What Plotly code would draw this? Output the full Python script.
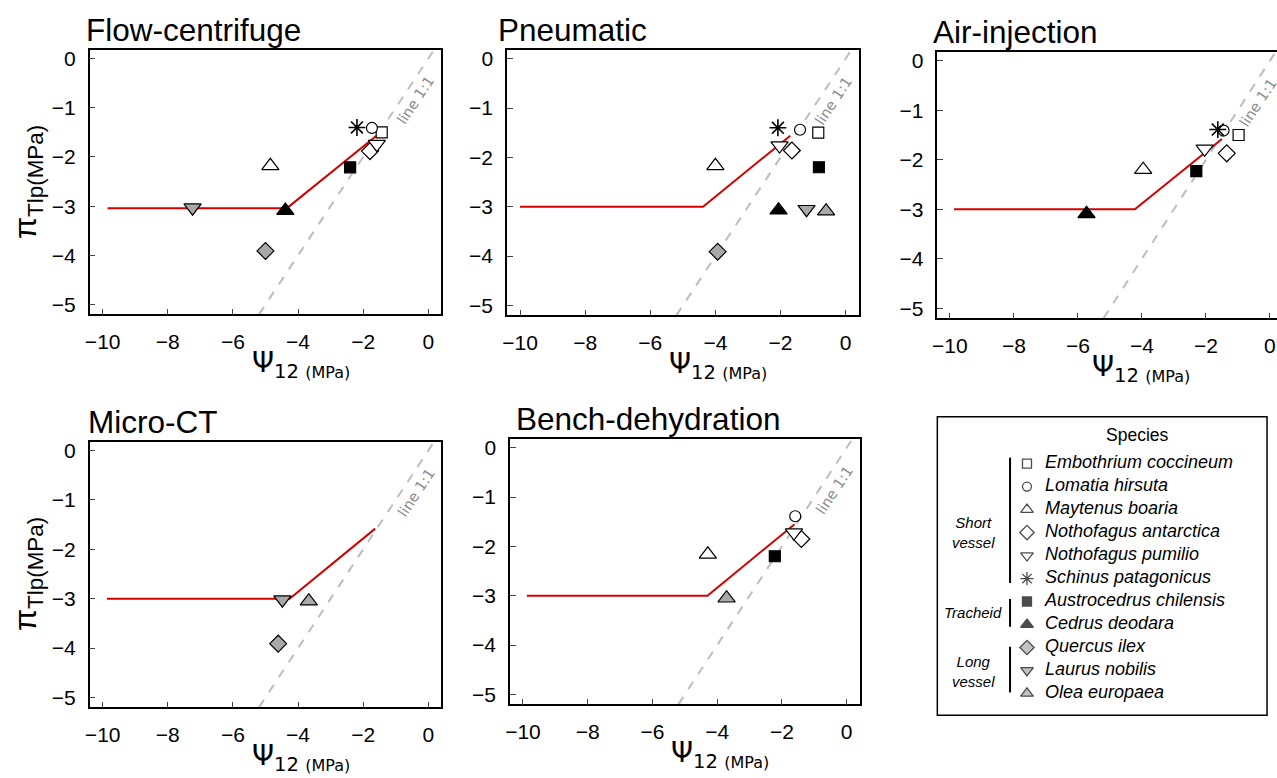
import plotly.graph_objects as go

W, H = 1277, 778

# species, in legend order
species = ["Embothrium coccineum", "Lomatia hirsuta", "Maytenus boaria",
           "Nothofagus antarctica", "Nothofagus pumilio", "Schinus patagonicus",
           "Austrocedrus chilensis", "Cedrus deodara", "Quercus ilex",
           "Laurus nobilis", "Olea europaea"]

# Flow-centrifuge
fc_species = ["Embothrium coccineum", "Lomatia hirsuta", "Maytenus boaria",
              "Nothofagus antarctica", "Nothofagus pumilio", "Schinus patagonicus",
              "Austrocedrus chilensis", "Cedrus deodara", "Quercus ilex", "Laurus nobilis"]
fc_psi12 = [-1.43, -1.73, -4.85, -1.79, -1.58, -2.19, -2.40, -4.39, -5.00, -7.24]
fc_tlp = [-1.50, -1.41, -2.18, -1.88, -1.74, -1.40, -2.21, -3.09, -3.91, -3.03]
fc_fit_x = [-9.85, -4.34, -1.59]
fc_fit_y = [-3.04, -3.04, -1.57]

# Pneumatic
pn_species = ["Embothrium coccineum", "Lomatia hirsuta", "Maytenus boaria",
              "Nothofagus antarctica", "Nothofagus pumilio", "Schinus patagonicus",
              "Austrocedrus chilensis", "Cedrus deodara", "Quercus ilex",
              "Laurus nobilis", "Olea europaea"]
pn_psi12 = [-0.84, -1.40, -4.00, -1.65, -2.03, -2.08, -0.82, -2.06, -3.93, -1.20, -0.60]
pn_tlp = [-1.50, -1.44, -2.17, -1.86, -1.76, -1.40, -2.20, -3.07, -3.91, -3.05, -3.09]
pn_fit_x = [-10.0, -4.38, -1.70]
pn_fit_y = [-3.0, -3.0, -1.56]

# Air-injection
ai_species = ["Embothrium coccineum", "Lomatia hirsuta", "Maytenus boaria",
              "Nothofagus antarctica", "Nothofagus pumilio", "Schinus patagonicus",
              "Austrocedrus chilensis", "Cedrus deodara"]
ai_psi12 = [-0.98, -1.45, -3.96, -1.35, -2.04, -1.63, -2.30, -5.73]
ai_tlp = [-1.50, -1.41, -2.20, -1.87, -1.78, -1.39, -2.23, -3.09]
ai_fit_x = [-9.87, -4.22, -1.50]
ai_fit_y = [-3.0, -3.0, -1.58]

# Micro-CT
mc_species = ["Quercus ilex", "Laurus nobilis", "Olea europaea"]
mc_psi12 = [-4.61, -4.48, -3.67]
mc_tlp = [-3.91, -3.02, -3.05]
mc_fit_x = [-9.87, -4.26, -1.63]
mc_fit_y = [-3.0, -3.0, -1.58]

# Bench-dehydration
bd_species = ["Lomatia hirsuta", "Maytenus boaria", "Nothofagus antarctica",
              "Nothofagus pumilio", "Austrocedrus chilensis", "Olea europaea"]
bd_psi12 = [-1.59, -4.29, -1.40, -1.63, -2.22, -3.71]
bd_tlp = [-1.39, -2.16, -1.85, -1.72, -2.20, -3.05]
bd_fit_x = [-9.88, -4.30, -1.61]
bd_fit_y = [-3.0, -3.0, -1.55]

# 1:1 line
one_x = [-5.2, 0.2]
one_y = [-5.2, 0.2]

# marker styles: symbol, fill, size in panels, size in key
GREY = "#a9a9a9"
styles = {
    "Embothrium coccineum": ("square", "white", 11, 9),
    "Lomatia hirsuta": ("circle", "white", 11, 9),
    "Maytenus boaria": ("triangle-up", "white", 15, 11),
    "Nothofagus antarctica": ("diamond", "white", 13, 11),
    "Nothofagus pumilio": ("triangle-down", "white", 15, 11),
    "Schinus patagonicus": ("asterisk-open", "black", 14, 11),
    "Austrocedrus chilensis": ("square", "black", 11, 9),
    "Cedrus deodara": ("triangle-up", "black", 15, 11),
    "Quercus ilex": ("diamond", GREY, 13, 11),
    "Laurus nobilis": ("triangle-down", GREY, 15, 11),
    "Olea europaea": ("triangle-up", GREY, 15, 11),
}


def px(x):
    return x / W


def py(y):
    return 1 - y / H


# panel: title, data, frame in pixels (left, right, top, bottom), title left
panels = [
    ("Flow-centrifuge", fc_species, fc_psi12, fc_tlp, fc_fit_x, fc_fit_y, (85, 438, 47, 313), 79),
    ("Pneumatic", pn_species, pn_psi12, pn_tlp, pn_fit_x, pn_fit_y, (504, 857, 47, 314), 493),
    ("Air-injection", ai_species, ai_psi12, ai_tlp, ai_fit_x, ai_fit_y, (936, 1277, 49, 317), 930),
    ("Micro-CT", mc_species, mc_psi12, mc_tlp, mc_fit_x, mc_fit_y, (85, 438, 441, 708), 81),
    ("Bench-dehydration", bd_species, bd_psi12, bd_tlp, bd_fit_x, bd_fit_y, (507, 858, 438, 705), 511),
]

fig = go.Figure()
layout_axes = {}
annotations = []

for i, (title, sp_list, xs, ys, fx, fy, frame, tx) in enumerate(panels, start=1):
    xa = "x" if i == 1 else f"x{i}"
    ya = "y" if i == 1 else f"y{i}"

    fig.add_trace(go.Scatter(x=one_x, y=one_y, mode="lines", xaxis=xa, yaxis=ya,
                             line=dict(color="#bdbdbd", width=2, dash="dash"),
                             hoverinfo="skip"))
    fig.add_trace(go.Scatter(x=fx, y=fy, mode="lines", xaxis=xa, yaxis=ya,
                             line=dict(color="#d40000", width=2),
                             hoverinfo="skip"))

    for sp, x, y in zip(sp_list, xs, ys):
        sym, fill, size, _ = styles[sp]
        lw = 1.6 if sym == "asterisk-open" else 1.2
        fig.add_trace(go.Scatter(
            x=[x], y=[y], mode="markers", xaxis=xa, yaxis=ya, name=sp,
            marker=dict(symbol=sym, color=fill, size=size,
                        line=dict(color="black", width=lw)),
        ))

    l, r, t, b = frame
    xr = [-10.4, 0.4] if i != 3 else [-10.39, 0.22]
    layout_axes[f"xaxis{'' if i == 1 else i}"] = dict(
        domain=[px(l), px(r)], anchor=ya, range=xr, tickvals=[-10, -8, -6, -4, -2, 0],
        ticks="inside", ticklen=6, tickwidth=1.2, showline=True, linecolor="black",
        linewidth=1.5, mirror=True, showgrid=False, zeroline=False,
        tickfont=dict(size=21), ticklabelstandoff=8)
    layout_axes[f"yaxis{'' if i == 1 else i}"] = dict(
        domain=[py(b), py(t)], anchor=xa, range=[-5.2, 0.18], tickvals=[0, -1, -2, -3, -4, -5],
        ticks="inside", ticklen=6, tickwidth=1.2, showline=True, linecolor="black",
        linewidth=1.5, mirror=(i != 3), showgrid=False, zeroline=False,
        tickfont=dict(size=21), ticklabelstandoff=8)

    # panel title
    annotations.append(dict(text=title, x=px(tx), y=py(t - 20), xref="paper", yref="paper",
                            xanchor="left", yanchor="middle", showarrow=False,
                            font=dict(size=31.5, color="black")))
    # x axis title
    annotations.append(dict(
        text="Ψ<sub>12 <span style='font-size:16px'>(MPa)</span></sub>",
        x=0.6, y=py(b + 50), xref=f"{xa} domain", yref="paper",
        xanchor="center", yanchor="middle", showarrow=False,
        font=dict(size=28, color="black", family="DejaVu Sans")))
    # line 1:1 label
    annotations.append(dict(text="line 1:1", x=-0.38, y=-0.85, xref=xa, yref=ya,
                            textangle=-56.5, showarrow=False,
                            font=dict(size=14.5, color="#8c8c8c", family="DejaVu Sans")))

# y axis titles
for yc in (180, 574):
    annotations.append(dict(text="π<sub>Tlp(MPa)</sub>", x=px(22), y=py(yc),
                            xref="paper", yref="paper", textangle=-90,
                            xanchor="center", yanchor="middle", showarrow=False,
                            font=dict(size=32, color="black")))

# species key: markers and names on their own hidden axes
key_sym = [styles[s][0] for s in species]
key_fill = [styles[s][1] for s in species]
key_size = [styles[s][3] for s in species]
fig.add_trace(go.Scatter(
    x=[0] * len(species), y=species, mode="markers", xaxis="x6", yaxis="y6",
    marker=dict(symbol=key_sym, color=key_fill, size=key_size,
                line=dict(color="black", width=1.3)),
    hoverinfo="skip"))
fig.add_trace(go.Scatter(
    x=[1.8] * len(species), y=species, mode="text", xaxis="x6", yaxis="y6",
    text=[f"<i>{s}</i>" for s in species], textposition="middle right",
    textfont=dict(size=18, color="black"), cliponaxis=False, hoverinfo="skip"))
layout_axes["xaxis6"] = dict(domain=[px(1016), px(1266)], range=[-1, 24], anchor="y6",
                             visible=False, fixedrange=True)
layout_axes["yaxis6"] = dict(domain=[py(705.55), py(451.45)], range=[10.5, -0.5],
                             type="category", categoryorder="array", categoryarray=species,
                             anchor="x6", visible=False, fixedrange=True)

annotations.append(dict(text="Species", x=px(1137), y=py(434), xref="paper", yref="paper",
                        xanchor="center", yanchor="middle", showarrow=False,
                        font=dict(size=17.5, color="black")))
for txt, yc in (("<i>Short<br>vessel</i>", 532), ("<i>Tracheid</i>", 613),
                ("<i>Long<br>vessel</i>", 672)):
    annotations.append(dict(text=txt, x=px(972), y=py(yc), xref="paper", yref="paper",
                            xanchor="center", yanchor="middle", showarrow=False,
                            font=dict(size=15, color="black")))

shapes = [
    dict(type="rect", xref="paper", yref="paper", x0=px(936), x1=px(1267),
         y0=py(716), y1=py(416), line=dict(color="black", width=1.5)),
    dict(type="line", xref="paper", yref="paper", x0=px(1009), x1=px(1009),
         y0=py(457), y1=py(583), line=dict(color="black", width=2)),
    dict(type="line", xref="paper", yref="paper", x0=px(1009), x1=px(1009),
         y0=py(599), y1=py(627), line=dict(color="black", width=2)),
    dict(type="line", xref="paper", yref="paper", x0=px(1009), x1=px(1009),
         y0=py(647), y1=py(693), line=dict(color="black", width=2)),
]

fig.update_layout(
    width=W, height=H,
    margin=dict(l=0, r=0, t=0, b=0),
    paper_bgcolor="white", plot_bgcolor="white",
    font=dict(family="Liberation Sans, Arial, sans-serif", color="black"),
    showlegend=False,
    shapes=shapes,
    annotations=annotations,
    **layout_axes,
)

fig.write_html("out.html", config={"displayModeBar": False},
               post_script="document.body.style.margin='0px';")
